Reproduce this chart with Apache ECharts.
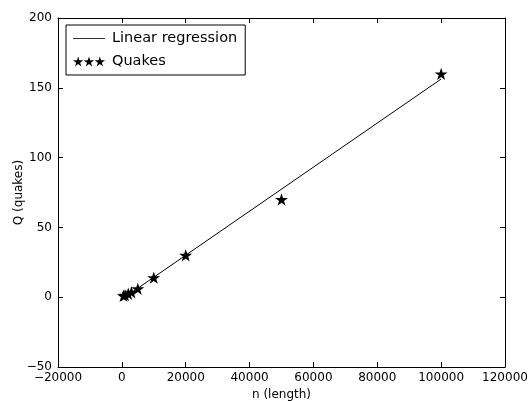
<!DOCTYPE html>
<html>
<head>
<meta charset="utf-8">
<script src="https://cdn.jsdelivr.net/npm/echarts@6/dist/echarts.min.js"></script>
<style>
  html, body { margin: 0; padding: 0; background: #fff; }
  #chart { width: 532px; height: 401px; }
</style>
</head>
<body>
<div id="chart"></div>
<script>
// data
const quakeN = [500, 1000, 2000, 3000, 5000, 10000, 20000, 50000, 100000];
const quakeQ = [1, 1.5, 2.5, 3.5, 6, 14, 30, 70, 160];
// fitted line end points
const fitN = [500, 100000];
const fitQ = [-0.7, 156.3];

// five point star path
function starPath(cx, cy, r) {
    const inner = r * 0.382;
    let d = '';
    for (let i = 0; i < 10; i++) {
        const rr = i % 2 === 0 ? r : inner;
        const a = -Math.PI / 2 + i * Math.PI / 5;
        const x = (cx + rr * Math.cos(a)).toFixed(3);
        const y = (cy + rr * Math.sin(a)).toFixed(3);
        d += (i === 0 ? 'M' : 'L') + x + ',' + y;
    }
    return d + 'Z';
}
const starSymbol = 'path://' + starPath(0, 0, 10);
const threeStars = 'path://' + starPath(10, 10, 10) + starPath(30, 10, 10) + starPath(50, 10, 10);
const lineIcon = 'path://M0,0h40v1h-40z';

const fmt = (v) => String(v).replace('-', '\u2212');
const font = 'DejaVu Sans';

const baseX = {
    type: 'value',
    min: -20000,
    max: 120000,
    interval: 20000,
    axisLine: { show: true, onZero: false, lineStyle: { color: '#000', width: 1 } },
    axisTick: { show: true, inside: true, length: 5, lineStyle: { color: '#000' } },
    splitLine: { show: false },
};
const baseY = {
    type: 'value',
    min: -50,
    max: 200,
    interval: 50,
    axisLine: { show: true, onZero: false, lineStyle: { color: '#000', width: 1 } },
    axisTick: { show: true, inside: true, length: 5, lineStyle: { color: '#000' } },
    splitLine: { show: false },
};

const chart = echarts.init(document.getElementById('chart'));
chart.setOption({
    animation: false,
    backgroundColor: '#fff',
    textStyle: { fontFamily: font },
    grid: { left: 58, right: 27, top: 18, bottom: 34, outerBoundsMode: 'none', containLabel: false },
    xAxis: [
        {
            ...baseX,
            position: 'bottom',
            name: 'n (length)',
            nameLocation: 'middle',
            nameGap: 22,
            nameMoveOverlap: false,
            nameTextStyle: { color: '#000', fontSize: 12, fontFamily: font },
            axisLabel: { color: '#000', fontSize: 12, fontFamily: font, margin: 5, formatter: fmt, showMinLabel: true, showMaxLabel: true },
        },
        { ...baseX, position: 'top', axisLabel: { show: false } },
    ],
    yAxis: [
        {
            ...baseY,
            position: 'left',
            name: 'Q (quakes)',
            nameLocation: 'middle',
            nameGap: 33,
            nameMoveOverlap: false,
            nameTextStyle: { color: '#000', fontSize: 12, fontFamily: font },
            axisLabel: { color: '#000', fontSize: 12, fontFamily: font, margin: 6, formatter: fmt, showMinLabel: true, showMaxLabel: true },
        },
        { ...baseY, position: 'right', axisLabel: { show: false } },
    ],
    legend: {
        orient: 'vertical',
        left: 66,
        top: 25,
        padding: [6, 8, 6, 7],
        itemGap: 8,
        itemWidth: 32,
        itemHeight: 11,
        backgroundColor: '#fff',
        borderColor: '#000',
        borderWidth: 1,
        borderRadius: 0,
        textStyle: { color: '#000', fontSize: 14.5, fontFamily: font, padding: [0, 0, 0, 2] },
        data: [
            { name: 'Linear regression', icon: lineIcon, itemStyle: { color: '#000' } },
            { name: 'Quakes', icon: threeStars },
        ],
    },
    series: [
        {
            name: 'Linear regression',
            type: 'line',
            xAxisIndex: 0,
            yAxisIndex: 0,
            data: fitN.map((n, i) => [n, fitQ[i]]),
            symbol: 'none',
            lineStyle: { color: '#000', width: 1 },
            itemStyle: { color: '#000' },
            z: 2,
        },
        {
            name: 'Quakes',
            type: 'scatter',
            xAxisIndex: 0,
            yAxisIndex: 0,
            data: quakeN.map((n, i) => [n, quakeQ[i]]),
            symbol: starSymbol,
            symbolKeepAspect: true,
            symbolSize: 13,
            itemStyle: { color: '#000', opacity: 1 },
            z: 3,
        },
    ],
});
</script>
</body>
</html>
